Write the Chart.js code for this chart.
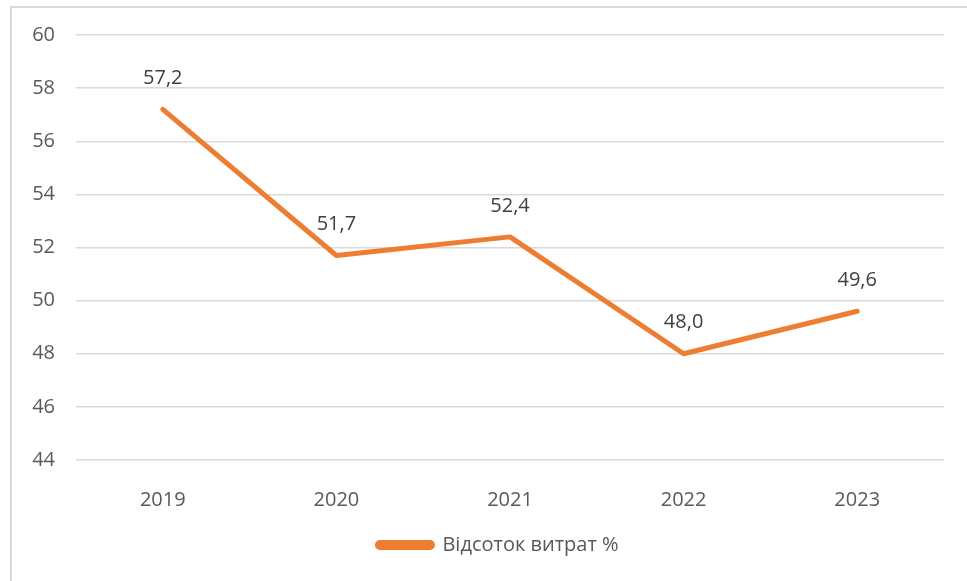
<!DOCTYPE html>
<html>
<head>
<meta charset="utf-8">
<script src="https://cdn.jsdelivr.net/npm/chart.js@4"></script>
<style>
  body { margin: 0; background: #fff; }
  .wrap { position: relative; width: 967px; height: 581px; overflow: hidden; }
  .frame { position: absolute; left: 10px; top: 6px; width: 1000px; height: 650px; border: 2px solid #d9d9d9; }
  #chart { position: absolute; left: 0; top: 0; }
</style>
</head>
<body>
<div class="wrap">
  <div class="frame"></div>
  <canvas id="chart" width="967" height="581"></canvas>
</div>
<script>
const years = ['2019', '2020', '2021', '2022', '2023'];
const vidsotok = [57.2, 51.7, 52.4, 48.0, 49.6];
const seriesName = 'Відсоток витрат %';
const yMin = 44, yMax = 60, yStep = 2;

const FONT = "'Open Sans', 'Noto Sans', sans-serif";
const ORANGE = '#ED7D31';

// value labels above each point, comma as decimal separator
const valueLabels = {
  id: 'valueLabels',
  afterDatasetsDraw(chart) {
    const ctx = chart.ctx;
    const meta = chart.getDatasetMeta(0);
    ctx.save();
    ctx.font = '20px ' + FONT;
    ctx.fillStyle = '#404040';
    ctx.textAlign = 'center';
    ctx.textBaseline = 'middle';
    meta.data.forEach((pt, i) => {
      const txt = vidsotok[i].toFixed(1).replace('.', ',');
      ctx.fillText(txt, pt.x, pt.y - 31);
    });
    ctx.restore();
  }
};

// legend sits a bit right of the canvas centre in the original
const legendShift = {
  id: 'legendShift',
  afterLayout(chart) {
    chart.legend.left += 26;
    chart.legend.right += 26;
  }
};

new Chart(document.getElementById('chart'), {
  type: 'line',
  data: {
    labels: years,
    datasets: [{
      label: seriesName,
      data: vidsotok,
      borderColor: ORANGE,
      backgroundColor: ORANGE,
      borderWidth: 5,
      borderCapStyle: 'round',
      borderJoinStyle: 'round',
      pointRadius: 0,
      tension: 0
    }]
  },
  options: {
    responsive: false,
    animation: false,
    layout: { padding: { top: 35, right: 23, bottom: 16, left: 0 } },
    scales: {
      x: {
        offset: true,
        grid: { display: false },
        border: { display: false },
        ticks: { color: '#595959', font: { family: FONT, size: 20 }, padding: 20 },
        afterFit(s) { s.height = 65; }
      },
      y: {
        min: yMin,
        max: yMax,
        grid: { color: '#d9d9d9', lineWidth: 1.5, drawTicks: false },
        border: { display: false },
        ticks: { stepSize: yStep, color: '#595959', font: { family: FONT, size: 20 }, padding: 21 },
        afterFit(s) { s.width = 76; }
      }
    },
    plugins: {
      legend: {
        position: 'bottom',
        labels: {
          color: '#595959',
          font: { family: FONT, size: 20 },
          boxWidth: 55,
          boxHeight: 5,
          useBorderRadius: true,
          borderRadius: 2.5,
          padding: 10
        }
      },
      tooltip: { enabled: false }
    }
  },
  plugins: [valueLabels, legendShift]
});
</script>
</body>
</html>
